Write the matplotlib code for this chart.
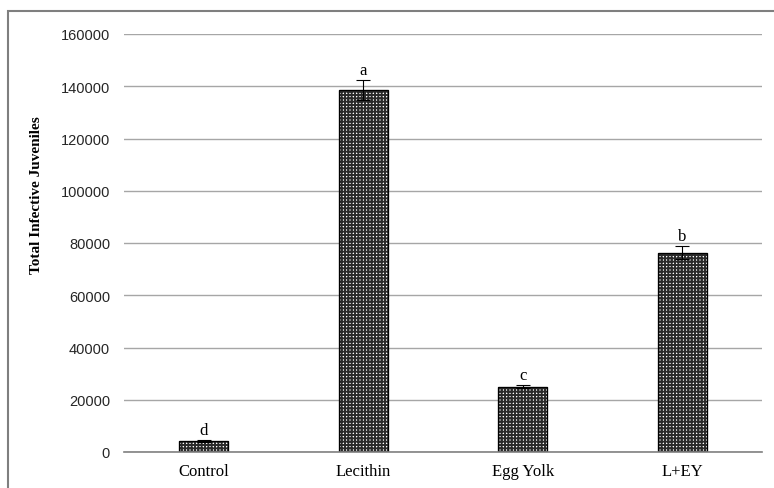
import numpy as np
import matplotlib
matplotlib.use('Agg')
import matplotlib.pyplot as plt
from matplotlib.patches import Rectangle

# Infective juvenile yield for each diet
treatments = ['Control', 'Lecithin', 'Egg Yolk', 'L+EY']
totals = [4300, 138600, 25000, 76200]
errs = [300, 3900, 600, 2500]
letters = ['d', 'a', 'c', 'b']
yticks = [0, 20000, 40000, 60000, 80000, 100000, 120000, 140000, 160000]

serif = 'Liberation Serif'
sans = 'Liberation Sans'
plt.rcParams['hatch.linewidth'] = 1.4

fig = plt.figure(figsize=(7.74, 4.89), dpi=100)
# outer chart frame
fig.patches.append(Rectangle((8/774, -0.1), 1.1, 1 - 12/489 + 0.1, transform=fig.transFigure,
                             fill=False, edgecolor='#7f7f7f', linewidth=1.5, zorder=0))
ax = fig.add_axes([124/774, 1 - 453/489, 638/774, (453 - 35)/489])

x = np.arange(len(treatments))
ax.bar(x, totals, width=0.31, color='white', edgecolor='#2a2a2a', hatch='+++++',
       linewidth=0.8, zorder=2)
ax.bar(x, totals, width=0.31, color='none', edgecolor='black', linewidth=0.9, zorder=2)
ax.errorbar(x, totals, yerr=errs, fmt='none', ecolor='black', elinewidth=0.8,
            capsize=5, capthick=0.8, zorder=3)
for xi, v, e, l in zip(x, totals, errs, letters):
    ax.annotate(l, (xi, v + e), xytext=(0, 1.5), textcoords='offset points',
                ha='center', va='bottom', fontsize=12, family=serif)

ax.set_xlim(-0.5, len(treatments) - 0.5)
ax.set_ylim(0, 160000)
ax.set_yticks(yticks)
ax.set_yticklabels([str(t) for t in yticks], family=sans, fontsize=10.5, color='#262626')
ax.set_xticks(x)
ax.set_xticklabels(treatments, family=serif, fontsize=12)
ax.tick_params(axis='y', length=0, pad=10)
ax.tick_params(axis='x', length=0, pad=8)
ax.grid(axis='y', color='#a6a6a6', linewidth=1, zorder=0)
ax.set_axisbelow(True)
for s in ['top', 'right', 'left']:
    ax.spines[s].set_visible(False)
ax.spines['bottom'].set_color('#808080')
ax.spines['bottom'].set_linewidth(1.2)

ax.set_ylabel('Total Infective Juveniles', family=serif, fontsize=11, fontweight='bold')
ax.yaxis.set_label_coords(-0.127, 0.617)

fig.savefig('out.png', dpi=100)
